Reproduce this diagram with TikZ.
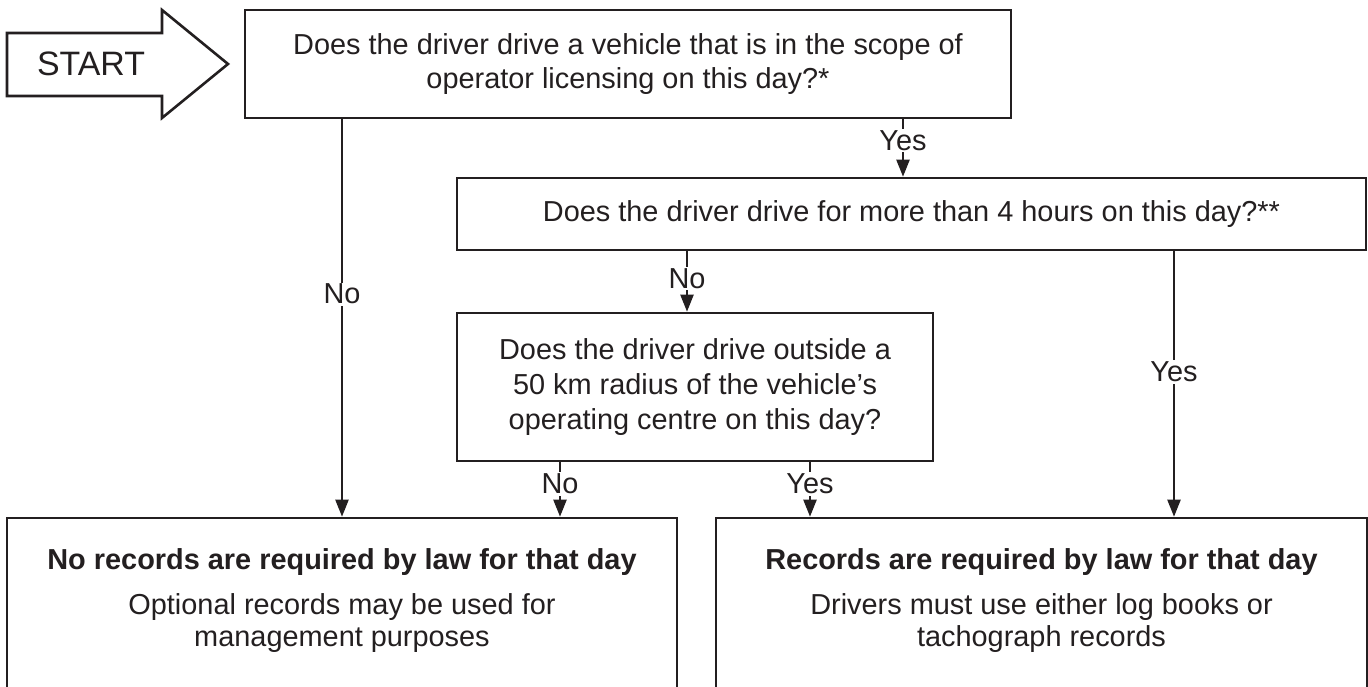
\documentclass[tikz,border=0pt]{standalone}
\usepackage{fontspec}
\setmainfont{Liberation Sans}
\usetikzlibrary{arrows.meta}
\definecolor{ink}{HTML}{231F20}
\begin{document}
\begin{tikzpicture}[x=1bp,y=-1bp,
  box/.style={draw=ink, line width=2.6bp, inner sep=0pt, align=center, text=ink,
              font=\fontsize{29}{35}\selectfont},
  txt/.style={font=\fontsize{29}{33}\selectfont, text=ink, align=center, inner sep=0pt},
  arr/.style={draw=ink, line width=2.2bp, -{Triangle[width=13bp,length=17bp]}},
  lbl/.style={font=\fontsize{29}{35}\selectfont, text=ink, fill=white, inner sep=1.5bp}]
\useasboundingbox (0,0) rectangle (1368,686);
\clip (0,0) rectangle (1368,686);
\fill[white] (0,0) rectangle (1368,686);

% START arrow
\draw[ink, line width=2.6bp, line join=miter, fill=white]
  (7,33) -- (162,33) -- (162,10) -- (228,64) -- (162,118) -- (162,96) -- (7,96) -- cycle;
\node[txt, font=\fontsize{34}{40}\selectfont] (start) at (91,64) {START};

% decision boxes
\node[box, minimum width=766bp, minimum height=108bp] (q1) at (628,64)
  {Does the driver drive a vehicle that is in the scope of\\operator licensing on this day?*};
\node[box, minimum width=909bp, minimum height=72bp] (q2) at (911.5,214)
  {Does the driver drive for more than 4 hours on this day?**};
\node[box, minimum width=476bp, minimum height=148bp] (q3) at (695,387)
  {Does the driver drive outside a\\50 km radius of the vehicle’s\\operating centre on this day?};

% result boxes
\node[box, minimum width=670bp, minimum height=244bp] (r1) at (342,640) {};
\node[box, minimum width=651bp, minimum height=244bp] (r2) at (1041.5,640) {};
\node[txt, font=\fontsize{29}{33}\bfseries\selectfont] (r1h) at (342,562)
  {No records are required by law for that day};
\node[txt] (r1t) at (342,623) {Optional records may be used for\\management purposes};
\node[txt, font=\fontsize{29}{33}\bfseries\selectfont] (r2h) at (1041.5,562)
  {Records are required by law for that day};
\node[txt] (r2t) at (1041.5,623) {Drivers must use either log books or\\tachograph records};

% connector x positions
\coordinate (xyes1) at (903,0);
\coordinate (xno2) at (687,0);
\coordinate (xyes2) at (1174,0);
\coordinate (xno3) at (560,0);
\coordinate (xyes3) at (810,0);

\draw[arr] (q1.south -| r1.north) -- node[lbl, pos=0.44] (l1) {No} (r1.north);
\draw[arr] (q1.south -| xyes1) -- node[lbl, pos=0.37] (l2) {Yes} (q2.north -| xyes1);
\draw[arr] (q2.south -| xno2) -- node[lbl, pos=0.45] (l3) {No} (q3.north -| xno2);
\draw[arr] (q2.south -| xyes2) -- node[lbl, pos=0.455] (l4) {Yes} (r2.north -| xyes2);
\draw[arr] (q3.south -| xno3) -- node[lbl, pos=0.4] (l5) {No} (r1.north -| xno3);
\draw[arr] (q3.south -| xyes3) -- node[lbl, pos=0.4] (l6) {Yes} (r2.north -| xyes3);
\end{tikzpicture}
\end{document}
